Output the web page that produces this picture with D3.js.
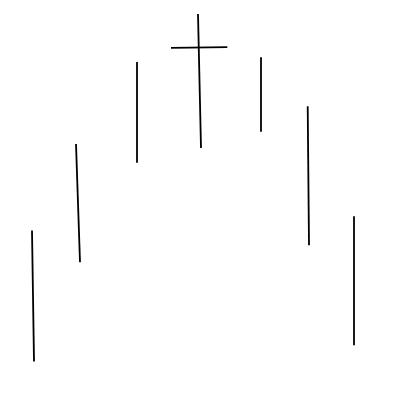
<!DOCTYPE html>
<html><head><meta charset="utf-8">
<script src="https://cdn.jsdelivr.net/npm/d3@7"></script>
<style>html,body{margin:0;padding:0;background:#fff;}</style>
</head><body>
<svg id="c" width="400" height="400"></svg>
<script>
// data
const categories = ["A","B","C","D","E","F","G"];
const xStart = [32, 76, 137, 198, 261, 307.7, 354];
const xEnd   = [34, 80, 137, 201, 261, 309, 354];
const highs  = [169.5, 256, 338, 386, 342.7, 293.7, 183.7];
const lows   = [38.5, 137.7, 237.3, 252, 268.3, 154.7, 54.7];
const markIdx = [3];
const markValue = [352.5];
const markFrom = [171];
const markTo = [227.3];

const svg = d3.select("#c");
const x = d3.scaleLinear().domain([0, 400]).range([0, 400]);
const y = d3.scaleLinear().domain([0, 400]).range([400, 0]);

svg.selectAll("line.bar").data(categories).join("line")
  .attr("class","bar")
  .attr("x1",(d,i)=>x(xStart[i])).attr("y1",(d,i)=>y(highs[i]))
  .attr("x2",(d,i)=>x(xEnd[i])).attr("y2",(d,i)=>y(lows[i]))
  .attr("stroke","#000").attr("stroke-width",1.8).attr("stroke-linecap","butt");

svg.selectAll("line.mark").data(markIdx).join("line")
  .attr("class","mark")
  .attr("x1",(d,i)=>x(markFrom[i])).attr("y1",(d,i)=>y(markValue[i]-0.4))
  .attr("x2",(d,i)=>x(markTo[i])).attr("y2",(d,i)=>y(markValue[i]+0.4))
  .attr("stroke","#000").attr("stroke-width",1.8);
</script>
</body></html>
